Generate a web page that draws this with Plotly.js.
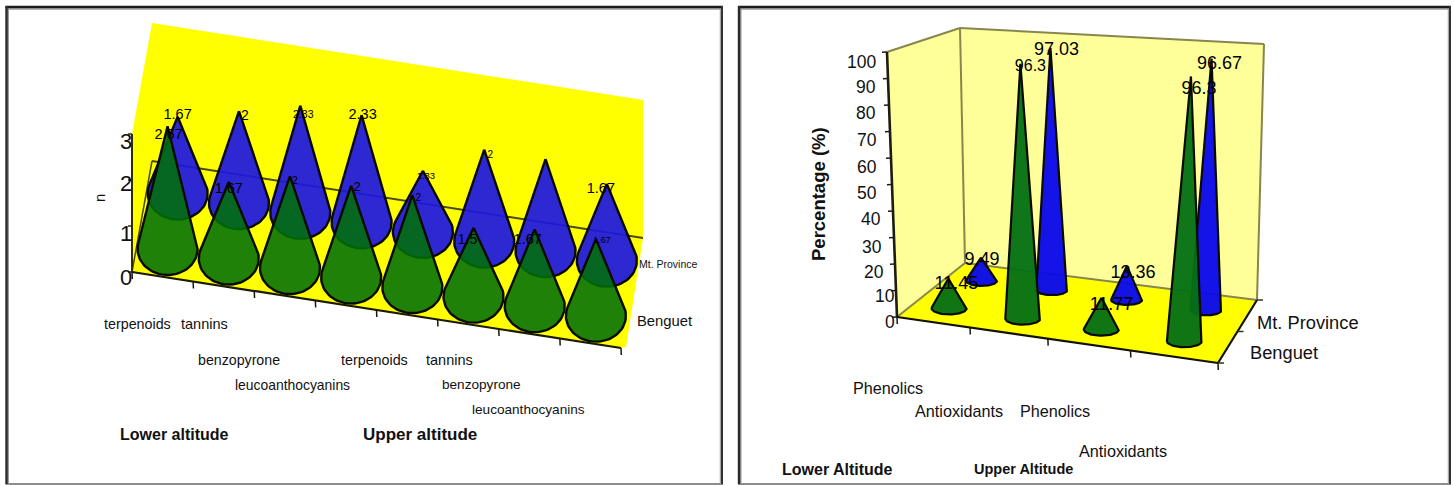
<!DOCTYPE html>
<html>
<head>
<meta charset="utf-8">
<script src="https://cdn.plot.ly/plotly-3.0.1.min.js"></script>
<style>html,body{margin:0;padding:0;background:#fff}#chart{width:1454px;height:485px}</style>
</head>
<body>
<div id="chart"></div>
<script>
// Number of compounds per class, by site (left panel)
const compoundClasses = ['terpenoids', 'tannins', 'benzopyrone', 'leucoanthocyanins',
                         'terpenoids', 'tannins', 'benzopyrone', 'leucoanthocyanins'];
const benguetCounts = [2.67, 1.67, 2, 2, 2, 1.5, 1.67, 1.67];
const provinceCounts = [1.67, 2, 2.33, 2.33, 1.33, 2, 2, 1.67];
const benguetCountLabels = ['2.67', '1.67', '2', '2', '2', '1.5', '1.67', '1.67'];
const provinceCountLabels = ['1.67', '2', '2.33', '2.33', '1.33', '2', '', '1.67'];

// Percentages by assay and site (right panel)
const assays = ['Phenolics', 'Antioxidants', 'Phenolics', 'Antioxidants'];
const benguetPercent = [11.45, 96.3, 11.77, 96.3];
const provincePercent = [9.49, 97.03, 13.36, 96.67];
const benguetPercentLabels = ['11.45', '96.3', '11.77', '96.3'];
const provincePercentLabels = ['9.49', '97.03', '13.36', '96.67'];

const countTicks = [0, 1, 2, 3];
const percentTicks = [0, 10, 20, 30, 40, 50, 60, 70, 80, 90, 100];

// Label placement relative to each cone tip
const benguetCountOffsets = [[1,9],[0,8],[5,5],[6,2],[6,3],[-6,13],[-7,11],[6,2]];
const provinceCountOffsets = [[0,-1],[6,5],[3,10],[1,0],[3,6],[6,6],[0,0],[-6,5]];
const benguetCountSizes = [14.5,14.5,10,13,10,14,14.5,9];
const provinceCountSizes = [14.5,14,10.5,14.5,9.5,10,10,14.5];
const benguetPercentOffsets = [[8,6],[10,3],[10,8],[8,13]];
const provincePercentOffsets = [[1,3],[6,3],[6,8],[8,6]];
const benguetPercentSizes = [18,16,18,18];
const provincePercentSizes = [18,18,18,18];

const INK = '#1a1a00';
const GREEN = 'rgba(0,112,8,0.88)';
const BLUE = 'rgba(28,22,228,0.92)';

// Maps (category fraction, depth fraction, height fraction) into the plot's coordinates
function boxProjection(box, warp) {
  const mix = (a, b, t) => [a[0] + (b[0] - a[0]) * t, a[1] + (b[1] - a[1]) * t];
  return function (u, v, w) {
    const uu = u - warp * u * (1 - u);
    const base = mix(mix(box.fl, box.fr, uu), mix(box.bl, box.br, uu), v);
    const top = mix(mix(box.flt, box.frt, uu), mix(box.blt, box.brt, uu), v);
    return mix(base, top, w);
  };
}

const leftBox = {fl:[132,272], fr:[621,348], bl:[152,161], br:[643,238],
                 flt:[132,134], frt:[621,210], blt:[152,23], brt:[643,100]};
const rightBox = {fl:[897,317], fr:[1218,363], bl:[965,263], br:[1257,300],
                  flt:[887,52], frt:[1228,78], blt:[960,28], brt:[1264,44]};
const leftProject = boxProjection(leftBox, 0);
const rightProject = boxProjection(rightBox, 0.12);

const traces = [];

function polygon(points, fill, lineColor, lineWidth) {
  traces.push({
    x: points.map(p => p[0]), y: points.map(p => p[1]),
    mode: 'lines', fill: 'toself', fillcolor: fill, hoverinfo: 'skip',
    line: {color: lineColor || 'rgba(0,0,0,0)', width: lineWidth || 0}
  });
}
function segment(a, b, color, width) {
  traces.push({x: [a[0], b[0]], y: [a[1], b[1]], mode: 'lines', hoverinfo: 'skip',
               line: {color: color, width: width}});
}

// Outline of a cone: the two tangent sides from the tip plus the near arc of the base
function coneOutline(base, tip, rx, ry) {
  const h = base[1] - tip[1];
  const s = h > ry ? ry / h : 1;
  const start = Math.asin(s);
  const steps = 48;
  const pts = [tip];
  for (let i = 0; i <= steps; i++) {
    const a = -start + (Math.PI + 2 * start) * i / steps;
    pts.push([base[0] + rx * Math.cos(a), base[1] + ry * Math.sin(a)]);
  }
  pts.push(tip);
  return pts;
}

function drawSeries(project, depth, values, maxValue, rx, ry, color, edge) {
  const n = values.length;
  values.forEach((val, i) => {
    const u = (i + 0.5) / n;
    const base = project(u, depth, 0);
    const tip = project(u, depth, val / maxValue);
    polygon(coneOutline(base, tip, rx, ry), color, '#0a0a00', edge);
  });
}

function dataLabels(project, depth, values, maxValue, labels, offsets, sizes) {
  const n = values.length;
  const tips = values.map((val, i) => project((i + 0.5) / n, depth, val / maxValue));
  traces.push({
    x: tips.map((p, i) => p[0] + offsets[i][0]),
    y: tips.map((p, i) => p[1] + offsets[i][1]),
    text: labels, mode: 'text', hoverinfo: 'skip', textposition: 'middle center',
    textfont: {family: 'Liberation Sans, Arial, sans-serif', size: sizes, color: '#000'}
  });
}

function floorTicks(project, count) {
  for (let i = 0; i <= count; i++) {
    const p = project(i / count, 0, 0);
    segment(p, [p[0] + 0.3, p[1] + 7], INK, 1.5);
  }
}

// ---- Left panel ----
polygon([leftBox.fl, leftBox.flt, leftBox.blt, leftBox.brt, leftBox.br, [626, 347], leftBox.fr, leftBox.fl], '#ffff00');
segment(leftBox.bl, leftBox.br, '#4a4a00', 2);
segment(leftBox.fl, leftBox.bl, '#4a4a00', 1.5);
segment(leftBox.fl, leftBox.flt, '#332f00', 2);
countTicks.forEach(t => {
  const p = leftProject(0, 0, t / 3);
  segment(p, [p[0] - 4, p[1]], '#332f00', 1.5);
});
floorTicks(leftProject, 8);
segment(leftBox.fl, leftBox.fr, INK, 2.2);
drawSeries(leftProject, 0.75, provinceCounts, 3, 30, 26, BLUE, 2.4);
drawSeries(leftProject, 0.25, benguetCounts, 3, 30, 26, GREEN, 2.4);
dataLabels(leftProject, 0.75, provinceCounts, 3, provinceCountLabels, provinceCountOffsets, provinceCountSizes);
dataLabels(leftProject, 0.25, benguetCounts, 3, benguetCountLabels, benguetCountOffsets, benguetCountSizes);

// ---- Right panel ----
polygon([rightBox.fl, rightBox.flt, rightBox.blt, rightBox.bl, rightBox.fl], '#ffff99');
polygon([rightBox.bl, rightBox.blt, rightBox.brt, rightBox.br, rightBox.bl], '#ffff99');
polygon([rightBox.fl, rightBox.bl, rightBox.br, rightBox.fr, rightBox.fl], '#ffff00');
const WALL_EDGE = '#86864e';
segment(rightBox.flt, rightBox.blt, WALL_EDGE, 2);
segment(rightBox.blt, rightBox.brt, WALL_EDGE, 2);
segment(rightBox.blt, rightBox.bl, WALL_EDGE, 2);
segment(rightBox.brt, rightBox.br, WALL_EDGE, 2);
segment(rightBox.fl, rightBox.bl, WALL_EDGE, 2);
segment(rightBox.bl, rightBox.br, WALL_EDGE, 2);
segment(rightBox.fl, rightBox.flt, '#1c1c10', 2.6);
percentTicks.forEach(t => {
  const p = rightProject(0, 0, t / 100);
  segment(p, [p[0] - 5, p[1] + 0.2], '#1c1c10', 1.6);
});
floorTicks(rightProject, 4);
segment(rightBox.fl, rightBox.fr, '#111100', 2.2);
segment(rightBox.fr, rightBox.br, '#111100', 2.2);
[0, 0.5, 1].forEach(v => {
  const p = rightProject(1, v, 0);
  segment(p, [p[0] + 6, p[1]], '#333320', 1.5);
});
drawSeries(rightProject, 0.75, provincePercent, 100, 15.5, 5, 'rgba(10,10,235,0.96)', 2.2);
drawSeries(rightProject, 0.25, benguetPercent, 100, 17.5, 6, 'rgba(5,112,20,0.96)', 2.2);
dataLabels(rightProject, 0.75, provincePercent, 100, provincePercentLabels, provincePercentOffsets, provincePercentSizes);
dataLabels(rightProject, 0.25, benguetPercent, 100, benguetPercentLabels, benguetPercentOffsets, benguetPercentSizes);

// ---- Text ----
const annotations = [];
function note(text, x, y, size, opts) {
  annotations.push(Object.assign({
    text: text, x: x, y: y, xref: 'x', yref: 'y', showarrow: false,
    xanchor: 'left', yanchor: 'middle', borderpad: 0,
    font: {family: 'Liberation Sans, Arial, sans-serif', size: size, color: '#111'}
  }, opts || {}));
}

const leftClassX = [103, 180, 197, 234, 340, 425, 441, 471];
const leftClassY = [324, 324, 360, 385, 360, 360, 384, 409];
const leftClassSizes = [14.3, 14.5, 14.2, 13.9, 14.3, 14.5, 13.6, 13.6];
compoundClasses.forEach((c, i) => note(c, leftClassX[i], leftClassY[i], leftClassSizes[i]));
note('<b>Lower altitude</b>', 119, 434, 16);
note('<b>Upper altitude</b>', 362, 434, 17);
note('Mt. Province', 638, 264, 10.5);
note('Benguet', 636, 321, 14.8);
note('n', 99, 198, 15, {xanchor: 'center', textangle: -90});
const leftTickY = [277, 233, 183, 141];
countTicks.forEach((t, i) => note(String(t), 133, leftTickY[i], 22, {xanchor: 'right'}));

const rightAssayX = [852, 914, 1019, 1078];
const rightAssayY = [388, 411, 411, 451];
assays.forEach((c, i) => note(c, rightAssayX[i], rightAssayY[i], 16.2));
note('<b>Lower Altitude</b>', 781, 469, 16);
note('<b>Upper Altitude</b>', 973, 469, 14.5);
note('Mt. Province', 1256, 322, 18.3);
note('Benguet', 1249, 352, 18.3);
note('<b>Percentage (%)</b>', 818, 194, 18.5, {xanchor: 'center', textangle: -90});
const rightTickRight = [896, 896, 885, 883, 882, 878, 878, 878, 877, 877, 877];
const rightTickY = [322, 296, 272, 247, 219, 193, 167, 140, 113, 87, 62];
percentTicks.forEach((t, i) => note(String(t), rightTickRight[i], rightTickY[i], 17.5, {xanchor: 'right'}));

// Panel frames: dark top and sides with a soft inner edge, light bottom rule
function frame(x0, x1) {
  const rule = (xa, ya, xb, yb, color, width) => ({
    type: 'line', xref: 'x', yref: 'y', x0: xa, y0: ya, x1: xb, y1: yb, line: {color: color, width: width}
  });
  return [
    rule(x0 - 1, 484, x1 + 1, 484, '#8c8c8c', 2),
    rule(x0 + 1.5, 9, x1 - 1.5, 9, '#9a9a9a', 1.5),
    rule(x0 + 1.5, 7, x0 + 1.5, 484, '#9a9a9a', 2),
    rule(x1 - 1.5, 7, x1 - 1.5, 484, '#a8a8a8', 1.5),
    rule(x0 - 1, 7, x1 + 1, 7, '#1c1c1c', 2.4),
    rule(x0, 6, x0, 484, '#2a2a2a', 2.4),
    rule(x1, 6, x1, 484, '#333', 2)
  ];
}

Plotly.newPlot('chart', traces, {
  width: 1454, height: 485,
  margin: {l: 0, r: 0, t: 0, b: 0},
  paper_bgcolor: '#fff', plot_bgcolor: '#fff',
  showlegend: false,
  xaxis: {range: [0, 1454], visible: false, fixedrange: true},
  yaxis: {range: [485, 0], visible: false, fixedrange: true},
  annotations: annotations,
  shapes: frame(6.5, 722).concat(frame(739, 1450))
}, {staticPlot: true, displayModeBar: false});
</script>
</body>
</html>
